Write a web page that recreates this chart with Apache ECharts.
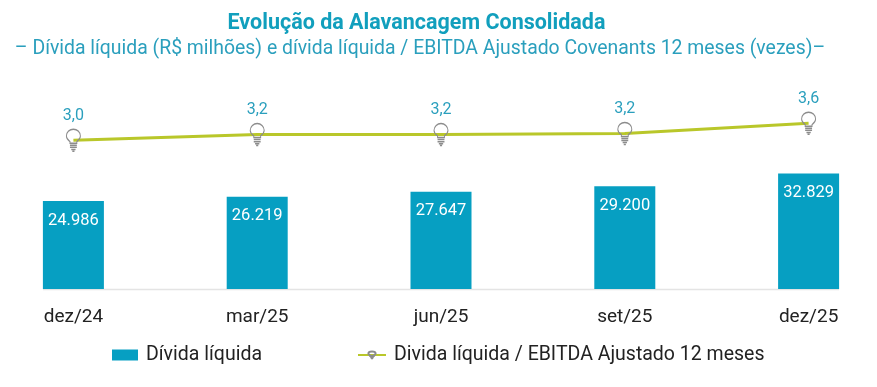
<!DOCTYPE html>
<html><head><meta charset="utf-8">
<script src="https://cdn.jsdelivr.net/npm/echarts@6/dist/echarts.min.js"></script>
<style>html,body{margin:0;background:#fff}#c{width:877px;height:387px}</style></head>
<body><div id="c"></div>
<script>
const categories = ['dez/24','mar/25','jun/25','set/25','dez/25'];
const dividaLiquida = [24986,26219,27647,29200,32829];
const alavancagem = [3.0,3.2,3.2,3.24,3.6];
const barName = 'Dívida líquida';
const lineName = 'Divida líquida / EBITDA Ajustado 12 meses';
const titleText = 'Evolução da Alavancagem Consolidada';
const subtitleText = '– Dívida líquida (R$ milhões) e dívida líquida / EBITDA Ajustado Covenants 12 meses (vezes)–';
const FONT = 'Roboto';
const BULB = 'path://M7 0.5C3.4 0.5 0.5 3.4 0.5 7C0.5 9.4 2 11 3.8 12.4L3.8 14L10.2 14L10.2 12.4C12 11 13.5 9.4 13.5 7C13.5 3.4 10.6 0.5 7 0.5ZM3.8 16L10.2 16M3.8 18L10.2 18M5 20L9 20M6 21.8L8 21.8';
const chart = echarts.init(document.getElementById('c'),null,{renderer:'canvas'});
chart.setOption({
  animation:false,
  backgroundColor:'#fff',
  title:[
    {text:titleText,left:411.5,top:8,textAlign:'center',textStyle:{fontFamily:FONT,fontSize:21.5,fontWeight:'bold',color:'#119fbd'}},
    {text:subtitleText,left:415,top:35,textAlign:'center',textStyle:{fontFamily:FONT,fontSize:19.4,fontWeight:'normal',color:'#2a9fbd'}}
  ],
  grid:{left:-18.5,right:-23.5,top:7.4,bottom:98,outerBoundsMode:'none'},
  legend:[
    {left:107,top:340,itemWidth:26,itemHeight:11,data:[{name:barName,icon:'rect'}],itemGap:0,
     textStyle:{fontFamily:FONT,fontSize:19.5,color:'#222',padding:[0,0,0,3]}},
    {left:352,top:340,itemWidth:28,itemHeight:9,data:[{name:lineName}],
     textStyle:{fontFamily:FONT,fontSize:19.5,color:'#222',padding:[0,0,0,3]}}
  ],
  xAxis:{type:'category',data:categories,axisTick:{show:false},
    axisLine:{show:false},
    axisLabel:{fontFamily:FONT,fontSize:19,color:'#222',margin:19}},
  yAxis:[
    {type:'value',min:0,max:80000,show:false},
    {type:'value',min:-2.25,max:7.69,show:false}
  ],
  graphic:[{type:'line',shape:{x1:43,y1:289.5,x2:839,y2:289.5},style:{stroke:'#e4e4e4',lineWidth:1.5},z:0}],
  series:[
    {name:barName,type:'bar',data:dividaLiquida,barWidth:61,itemStyle:{color:'#069fc2'},
      label:{show:true,position:'insideTop',distance:11,color:'#fff',fontFamily:FONT,fontSize:16.5,
        formatter:p=>p.value.toLocaleString('pt-BR')}},
    {name:lineName,type:'line',yAxisIndex:1,data:alavancagem,symbol:BULB,symbolSize:[14,22],
      lineStyle:{color:'#b9c72a',width:3},
      itemStyle:{color:'transparent',borderColor:'#8c8c8c',borderWidth:1.2},
      label:{show:true,position:'top',distance:5,color:'#2a9fbd',fontFamily:FONT,fontSize:16,
        formatter:p=>p.value.toFixed(1).replace('.',',')}}
  ]
});
</script></body></html>
